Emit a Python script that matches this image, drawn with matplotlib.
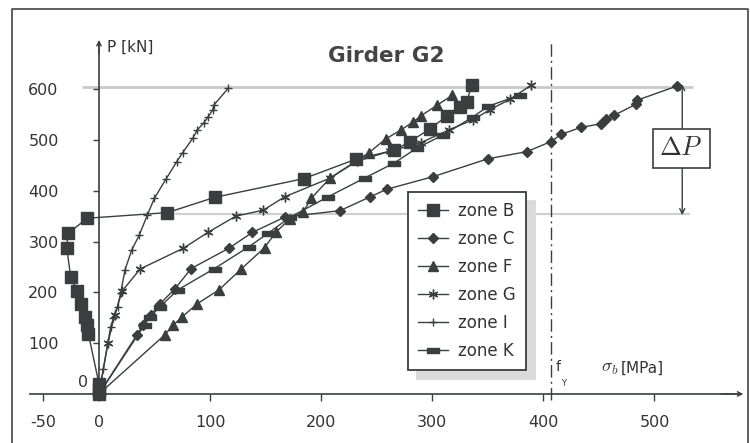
import matplotlib
matplotlib.use("Agg")
import matplotlib.pyplot as plt
from matplotlib.lines import Line2D
import numpy as np

plt.rcParams['font.family'] = ['DejaVu Sans']
plt.rcParams['mathtext.fontset'] = 'cm'

# ---------------- data ----------------
zone_B_x = [0, 0, 0, -9.6, -10.5, -12.6, -16.5, -19.5, -25.5, -29, -28, -10.5, 61.5, 104, 184.5, 231, 266, 280, 298, 313, 325, 331, 335.5]
zone_B_y = [0, 10, 20, 119, 136, 152, 178, 203, 231, 287, 316, 346, 357, 387, 424, 462, 480, 497, 522, 547, 564, 575, 608]

zone_C_x = [0, 34, 40, 47, 55, 68, 83, 117, 138, 167, 217, 244, 259, 301, 350, 385, 407, 416, 434, 452, 456, 464, 483, 484, 520]
zone_C_y = [0, 116, 136, 156, 178, 206, 247, 287, 318, 348, 361, 388, 403, 428, 463, 477, 497, 511, 525, 532, 542, 549, 570, 578, 606]

zone_F_x = [0, 59, 67, 75, 88, 108, 128, 149, 159, 172, 184, 191, 208, 243, 258, 272, 283, 290, 304, 318]
zone_F_y = [0, 116, 136, 152, 177, 205, 246, 288, 318, 345, 359, 385, 425, 475, 502, 520, 536, 548, 568, 588]

zone_G_x = [0, 8, 14, 21, 37, 76, 98, 123, 148, 167, 208, 232, 262, 290, 315, 337, 352, 370, 389]
zone_G_y = [0, 100, 155, 203, 246, 287, 318, 350, 362, 388, 425, 458, 478, 495, 520, 540, 560, 580, 608]

zone_I_x = [0, 4, 10.5, 12.9, 16.8, 19.5, 23.4, 29.4, 36.3, 43.5, 49.8, 60.3, 69.9, 75.3, 84.3, 88.5, 94.5, 98.4, 102.3, 103.5, 116.4]
zone_I_y = [0, 50, 132, 149, 172, 199, 244, 283, 313, 352, 385, 423, 457, 475, 503, 520, 534, 546, 559, 569, 602]

zone_K_x = [0, 41, 46, 55, 71, 104, 135, 152, 172, 206, 239, 266, 286, 310, 337, 350, 379]
zone_K_y = [0, 136, 152, 172, 205, 247, 290, 316, 348, 388, 425, 455, 484, 510, 546, 566, 589]

labels = ["zone B", "zone C", "zone F", "zone G", "zone I", "zone K"]

x_ticks = [-50, 0, 100, 200, 300, 400, 500]
y_ticks = [0, 100, 200, 300, 400, 500, 600]

f_y = 407          # yield stress line
P_top = 605        # upper reference load
P_low = 355        # lower reference load

# ---------------- styling ----------------
C = '#3a3e3e'
rect_marker = [(-1, -0.45), (1, -0.45), (1, 0.45), (-1, 0.45), (-1, -0.45)]

fig = plt.figure(figsize=(7.5, 4.43), dpi=100)
ax = fig.add_axes([0, 0, 1, 1])
ax.set_xlim(-89.1, 586)
ax.set_ylim(-96.5, 775.6)
ax.patch.set_visible(False)

# reference lines
ax.hlines(P_top, -15, 535, color='#c9c9c9', lw=2.0, zorder=1)
ax.hlines(P_low, 68, 532, color='#cfcfcf', lw=1.5, zorder=1)
ax.vlines(f_y, -12, 690, color=C, lw=1.0, linestyles=(0, (9, 3, 1.5, 3)), zorder=2)

series = [
    (zone_B_x, zone_B_y, dict(marker='s', ms=8)),
    (zone_C_x, zone_C_y, dict(marker='D', ms=5.5)),
    (zone_F_x, zone_F_y, dict(marker='^', ms=7)),
    (zone_G_x, zone_G_y, dict(marker=(6, 2, 0), ms=7, mew=1.0)),
    (zone_I_x, zone_I_y, dict(marker='+', ms=6, mew=1.0)),
    (zone_K_x, zone_K_y, dict(marker=rect_marker, ms=8)),
]
handles = []
for (xs, ys, st), lab in zip(series, labels):
    h, = ax.plot(xs, ys, color=C, lw=1.0, mfc=C, mec=C, label=lab, zorder=3, **st)
    handles.append(h)

# axes
for s in ['top', 'right']:
    ax.spines[s].set_visible(False)
ax.spines['left'].set_position(('data', 0))
ax.spines['bottom'].set_position(('data', 0))
ax.spines['left'].set_bounds(0, 690)
ax.spines['bottom'].set_bounds(-62, 577)
for s in ['left', 'bottom']:
    ax.spines[s].set_color(C)
    ax.spines[s].set_linewidth(1.2)

ax.set_xticks(x_ticks)
ax.set_xticklabels([str(v) for v in x_ticks])
ax.set_yticks(y_ticks[1:])
ax.set_yticklabels([str(v) for v in y_ticks[1:]])
ax.tick_params(axis='x', direction='out', length=5, width=1, color=C, pad=10, labelsize=11.5, labelcolor='#333')
ax.tick_params(axis='y', direction='out', length=4, width=1, color=C, pad=25, labelsize=11.5, labelcolor='#333')
ax.text(-10, 22, str(y_ticks[0]), ha='right', va='center', fontsize=11.5, color='#333')

# axis arrows
ax.annotate('', xy=(0, 697), xytext=(0, 670),
            arrowprops=dict(arrowstyle='->', lw=1.0, color=C, shrinkA=0, shrinkB=0, mutation_scale=8))
ax.annotate('', xy=(580, 0), xytext=(560, 0),
            arrowprops=dict(arrowstyle='->', lw=1.0, color=C, shrinkA=0, shrinkB=0, mutation_scale=8))

# texts
ax.text(7, 683, 'P [kN]', ha='left', va='center', fontsize=11, color='#333')
ax.text(259, 665, 'Girder G2', ha='center', va='center', fontsize=15.5, fontweight='bold', color='#444')
ax.text(452, 51, r'$\sigma_b$', ha='left', va='center', fontsize=13, color='#333')
ax.text(470, 51, '[MPa]', ha='left', va='center', fontsize=11, color='#333')
ax.text(411, 53, 'f', ha='left', va='center', fontsize=10, color='#333')
ax.text(415.5, 21, 'Y', ha='left', va='center', fontsize=6, color='#333')

# Delta P
ax.annotate('', xy=(525, 610), xytext=(525, 352),
            arrowprops=dict(arrowstyle='<->', lw=1.0, color=C, shrinkA=0, shrinkB=0, mutation_scale=9), zorder=4)
ax.text(524, 484, r'$\Delta P$', ha='center', va='center', fontsize=19, color='#333', zorder=5,
        bbox=dict(boxstyle='square,pad=0.25', fc='white', ec=C, lw=1.2))

# legend
leg = ax.legend(handles=handles, loc='upper left', bbox_to_anchor=(408 / 750, 1 - 192 / 443),
                bbox_transform=fig.transFigure, borderaxespad=0, fontsize=12, numpoints=1,
                handlelength=1.8, handletextpad=0.6, labelspacing=0.6, borderpad=0.6,
                fancybox=False, framealpha=1, edgecolor=C,
                shadow={'ox': 6.5, 'oy': -6.5, 'color': '#dadada', 'alpha': 1})
leg.get_frame().set_linewidth(1.3)
for t in leg.get_texts():
    t.set_color('#333')

# outer frame
fig.add_artist(Line2D([12 / 750, 12 / 750, 748 / 750, 748 / 750], [0, 1 - 9 / 443, 1 - 9 / 443, 0],
                      color='#444', lw=1.2))

fig.savefig('out.png', dpi=100, facecolor='white')
